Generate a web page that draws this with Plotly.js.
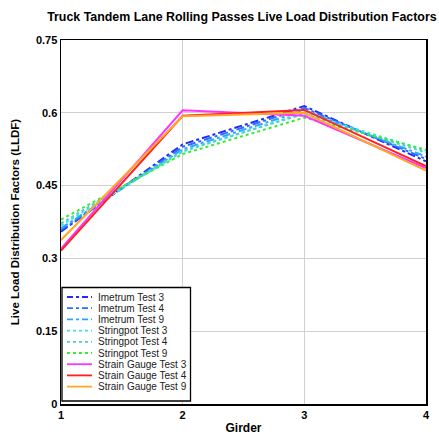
<!DOCTYPE html>
<html>
<head>
<meta charset="utf-8">
<script src="https://cdn.plot.ly/plotly-3.0.1.min.js"></script>
<style>html,body{margin:0;padding:0;background:#fff;}#chart{width:439px;height:438px;}</style>
</head>
<body>
<div id="chart"></div>
<script>
const girders = [1, 2, 3, 4];
const seriesNames = ["Imetrum Test 3", "Imetrum Test 4", "Imetrum Test 9",
  "Stringpot Test 3", "Stringpot Test 4", "Stringpot Test 9",
  "Strain Gauge Test 3", "Strain Gauge Test 4", "Strain Gauge Test 9"];
const imetrum3 = [0.355, 0.535, 0.614, 0.500];
const imetrum4 = [0.358, 0.530, 0.610, 0.505];
const imetrum9 = [0.362, 0.525, 0.605, 0.510];
const stringpot3 = [0.368, 0.520, 0.600, 0.522];
const stringpot4 = [0.372, 0.522, 0.598, 0.518];
const stringpot9 = [0.380, 0.515, 0.590, 0.524];
const strain3 = [0.320, 0.605, 0.594, 0.486];
const strain4 = [0.316, 0.594, 0.606, 0.490];
const strain9 = [0.338, 0.593, 0.600, 0.481];
const yTickVals = [0, 0.15, 0.3, 0.45, 0.6, 0.75];
const yTickText = ["0", "0.15", "0.3", "0.45", "0.6", "0.75"];

const values = [imetrum3, imetrum4, imetrum9, stringpot3, stringpot4, stringpot9, strain3, strain4, strain9];
const colors = ["#1f2bff", "#2f6bff", "#2aa6ff", "#33e6f0", "#55cccc", "#33ee33", "#ff33ff", "#ff2020", "#ffa726"];
const dashes = ["8px,3px,3px,3px", "8px,3px,3px,3px", "8px,3px,3px,3px", "dot", "dot", "dot", "solid", "solid", "solid"];

const traces = values.map((v, i) => ({
  x: girders, y: v, type: "scatter", mode: "lines", name: seriesNames[i],
  line: {color: colors[i], dash: dashes[i], width: 2}
}));

// plot area in pixels (for placing the hand-drawn legend box)
const PL = 61, PR = 426, PT = 40, PB = 404;
const px = x => (x - PL) / (PR - PL);
const py = y => (PB - y) / (PB - PT);

const shapes = [{type: "rect", xref: "paper", yref: "paper",
  x0: px(62), x1: px(190.5), y0: py(401), y1: py(287.5),
  fillcolor: "#fff", line: {color: "#000", width: 1.3}, layer: "above"}];
const annotations = [];
seriesNames.forEach((n, i) => {
  const yy = 297 + i * 11.2;
  shapes.push({type: "line", xref: "paper", yref: "paper", layer: "above",
    x0: px(67), x1: px(92), y0: py(yy), y1: py(yy),
    line: {color: colors[i], dash: i < 3 ? "6px,3px,3px,3px" : dashes[i], width: 1.8}});
  annotations.push({xref: "paper", yref: "paper", x: px(95.5), y: py(yy),
    xanchor: "left", yanchor: "middle", showarrow: false, text: n,
    font: {size: 10, color: "#222"}});
});

const layout = {
  width: 439, height: 438,
  margin: {l: PL, r: 439 - PR, t: PT, b: 438 - PB},
  paper_bgcolor: "#fff", plot_bgcolor: "#fff",
  font: {family: "Liberation Sans, Arial, sans-serif", size: 11, color: "#000"},
  title: {text: "<b>Truck Tandem Lane Rolling Passes Live Load Distribution Factors</b>",
    font: {size: 12.4, color: "#000"}, x: 0.551, xanchor: "center", y: 0.963, yanchor: "middle"},
  xaxis: {range: [1, 4], tickvals: girders, ticktext: girders.map(g => "<b>" + g + "</b>"),
    showgrid: true, gridcolor: "#d0d0d0", zeroline: false,
    showline: true, linecolor: "#000", linewidth: 1.5, mirror: true, ticks: "",
    title: {text: "<b>Girder</b>", font: {size: 12}, standoff: 4}},
  yaxis: {range: [0, 0.75], tickvals: yTickVals, ticktext: yTickText.map(t => "<b>" + t + "</b>"),
    showgrid: true, gridcolor: "#d0d0d0", zeroline: false,
    showline: true, linecolor: "#000", linewidth: 1.5, mirror: true, ticks: "",
    title: {text: "<b>Live Load Distribution Factors (LLDF)</b>", font: {size: 11.5}, standoff: 14}},
  showlegend: false,
  shapes: shapes,
  annotations: annotations
};

Plotly.newPlot("chart", traces, layout, {displayModeBar: false, staticPlot: true});
</script>
</body>
</html>
